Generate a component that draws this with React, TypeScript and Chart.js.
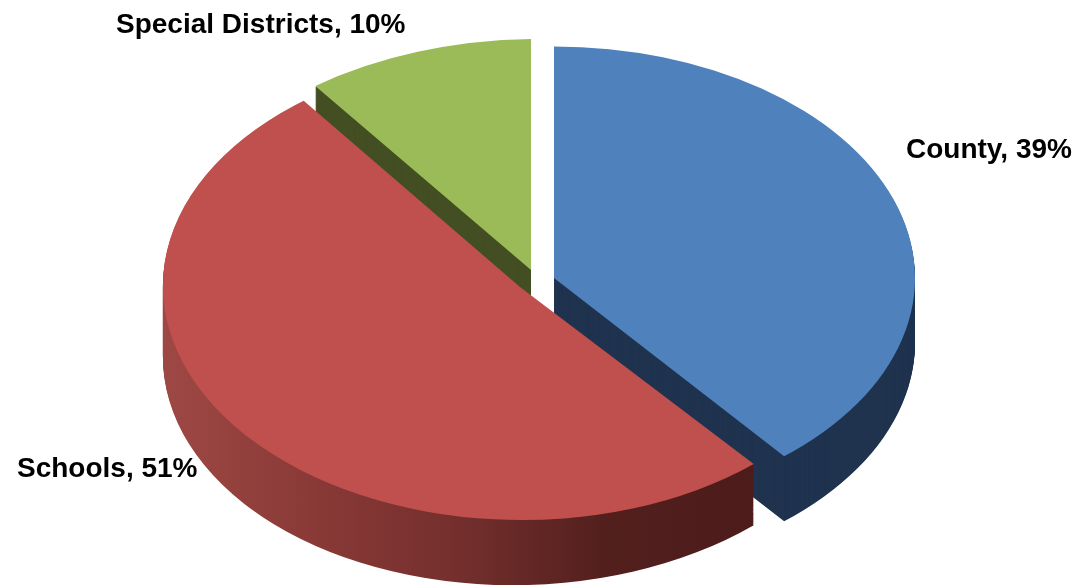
import React, { useEffect, useRef } from "react";
import { Chart, registerables } from "chart.js";

Chart.register(...registerables);

const categories = ["County", "Schools", "Special Districts"];
const shares = [39, 51, 10];
const topColors = ["#4F81BD", "#C0504D", "#9BBB59"];
const wallColors = ["#1F334F", null, "#434F22"];

// Where each exploded slice sits on the page: centre, ellipse radii and a small skew.
const centerX = [554, 520, 531];
const centerY = [278, 287, 270];
const radiusX = [361, 357, 367];
const radiusY = [231.5, 233, 231];
const skewX = [0, 8, 0];
const skewY = [0, -4, -5];
const wallSkewY = [0, -6, 0];
const wallDepth = 65;
const drawOrder = [2, 0, 1];

const schoolsWallStops: [number, string][] = [
  [163, "#9E4845"],
  [300, "#8A3A37"],
  [450, "#742F2D"],
  [600, "#521F1D"],
  [755, "#4C1C1A"],
];

const labelX = [906, 17, 116];
const labelY = [150, 469, 25];

const pseudo3d = {
  id: "pseudo3d",
  beforeDatasetsDraw(chart: any) {
    const ctx = chart.ctx as CanvasRenderingContext2D;
    const arcs = chart.getDatasetMeta(0).data as any[];
    for (const i of drawOrder) {
      const arc = arcs[i];
      const base = arc.options;
      const r = arc.outerRadius;
      const sx = radiusX[i] / r;
      let wall: any = wallColors[i];
      if (!wall) {
        const toLocal = (x: number) => (x - centerX[i]) / sx + arc.x;
        const first = schoolsWallStops[0][0];
        const last = schoolsWallStops[schoolsWallStops.length - 1][0];
        wall = ctx.createLinearGradient(toLocal(first), 0, toLocal(last), 0);
        for (const [x, c] of schoolsWallStops) wall.addColorStop((x - first) / (last - first), c);
      }
      const place = (dy: number, color: any) => {
        const extra = (wallSkewY[i] * dy) / wallDepth;
        ctx.save();
        ctx.transform(sx, (skewY[i] + extra) / r, skewX[i] / r, radiusY[i] / r, centerX[i], centerY[i] + dy);
        ctx.translate(-arc.x, -arc.y);
        arc.options = { ...base, backgroundColor: color };
        arc.draw(ctx);
        ctx.restore();
      };
      for (let d = wallDepth; d > 0; d--) place(d, wall);
      place(0, topColors[i]);
      arc.options = base;
    }
    ctx.save();
    ctx.fillStyle = "#000000";
    ctx.font = "bold 28px 'Liberation Sans'";
    ctx.textAlign = "left";
    ctx.textBaseline = "middle";
    categories.forEach((name, i) => {
      ctx.fillText(`${name}, ${shares[i]}%`, labelX[i], labelY[i]);
    });
    ctx.restore();
    return false;
  },
};

export default function App() {
  const ref = useRef<HTMLCanvasElement>(null);
  useEffect(() => {
    const chart = new Chart(ref.current as HTMLCanvasElement, {
      type: "pie",
      data: {
        labels: categories,
        datasets: [{ data: shares, backgroundColor: topColors, borderWidth: 0 }],
      },
      options: {
        animation: false,
        responsive: false,
        devicePixelRatio: 1,
        layout: { padding: 0 },
        plugins: { legend: { display: false }, tooltip: { enabled: false }, title: { display: false } },
      },
      plugins: [pseudo3d],
    } as any);
    return () => chart.destroy();
  }, []);
  return (
    <div style={{ position: "fixed", left: 0, top: 0, width: 1080, height: 585, background: "#fff", overflow: "hidden" }}>
      <canvas ref={ref} width={1080} height={585} style={{ display: "block" }} />
    </div>
  );
}
